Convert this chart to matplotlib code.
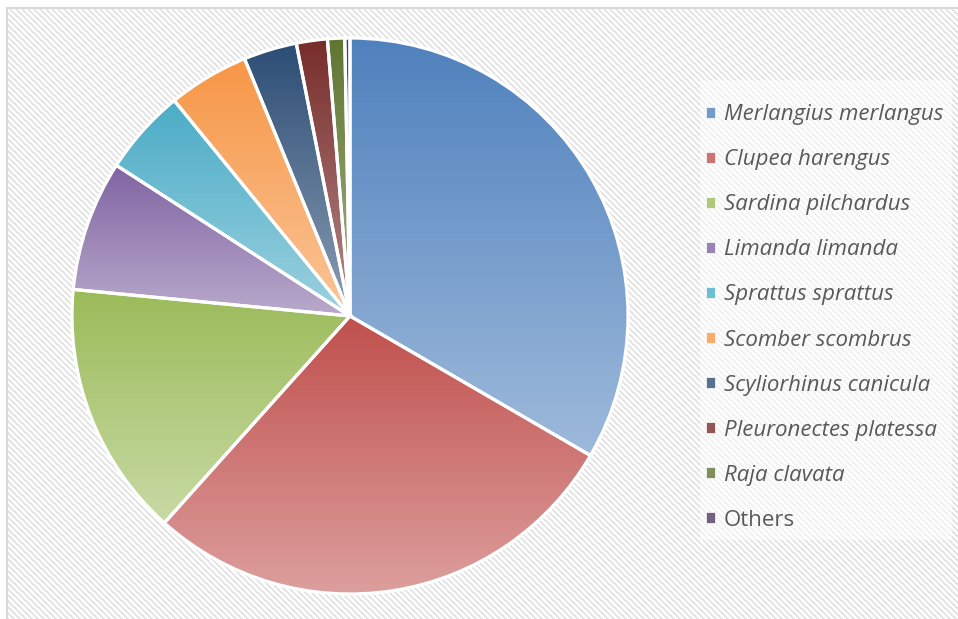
import numpy as np
import matplotlib
matplotlib.use('Agg')
import matplotlib.pyplot as plt
import matplotlib.patches as ptc
from matplotlib.colors import to_rgb


species = ['Merlangius merlangus', 'Clupea harengus', 'Sardina pilchardus',
           'Limanda limanda', 'Sprattus sprattus', 'Scomber scombrus',
           'Scyliorhinus canicula', 'Pleuronectes platessa', 'Raja clavata',
           'Others']
share = [33.4, 28.3, 14.9, 7.6, 5.0, 4.7, 3.1, 1.8, 1.0, 0.3]
colors = ['#4F81BD', '#C0504D', '#9BBB59', '#8064A2', '#4BACC6', '#F79646',
          '#2C4D75', '#772C2A', '#5F7530', '#4D3B62']


W, H = 958, 619
fig = plt.figure(figsize=(W / 100, H / 100), dpi=100)

# Striped backdrop drawn as an image over the whole figure.
bg = fig.add_axes([0, 0, 1, 1])
bg.set_axis_off()
yy, xx = np.mgrid[0:H, 0:W]
stripe = ((xx - yy) % 6) < 3
pattern = np.where(stripe, 0.90, 1.0)
pattern[:7, :] = 1.0
pattern[:, :7] = 1.0
bg.imshow(pattern, cmap='gray', vmin=0, vmax=1, extent=[0, W, H, 0],
          interpolation='bilinear', aspect='auto')
bg.plot([7.5, 7.5], [H, 7.5], color='#D9D9D9', lw=1.5)
bg.plot([7.5, W], [7.5, 7.5], color='#D9D9D9', lw=1.5)
bg.set_xlim(0, W)
bg.set_ylim(H, 0)

# Pie axes, centred at (350, 316) px with a radius of 278 px.
cx, cy, r = 350, H - 316, 278
pad = 1.01
ax = fig.add_axes([(cx - r * pad) / W, (cy - r * pad) / H,
                   2 * r * pad / W, 2 * r * pad / H])
ax.set_axis_off()

wedges, _ = ax.pie(share, startangle=90, counterclock=False, radius=1,
                   colors=['none'] * len(share),
                   wedgeprops=dict(edgecolor='white', linewidth=2.3))


def tint(c, amount):
    c = np.array(to_rgb(c))
    return c + (1 - c) * amount


# Fill every slice with a vertical gradient: full colour at the top, paler at the bottom.
for w, c in zip(wedges, colors):
    ext = w.get_path().get_extents()
    top, bottom = tint(c, 0.0), tint(c, 0.45)
    t = np.linspace(0, 1, 256)[:, None]
    grad = top[None, :] * (1 - t) + bottom[None, :] * t
    grad = np.repeat(grad[:, None, :], 2, axis=1)
    im = ax.imshow(grad, extent=[ext.x0, ext.x1, ext.y0, ext.y1],
                   origin='upper', aspect='auto', zorder=1)
    im.set_clip_path(w)
    w.set_zorder(2)
ax.set_xlim(-pad, pad)
ax.set_ylim(-pad, pad)

# Pale legend panel.
fig.patches.append(ptc.Rectangle((700 / W, 1 - 540 / H), 252 / W, 460 / H,
                                 transform=fig.transFigure, facecolor='white',
                                 alpha=0.55, edgecolor='none', zorder=1))

handles = [ptc.Patch(facecolor=tint(c, 0.2), edgecolor='white', linewidth=0.5)
           for c in colors]
leg = fig.legend(handles, species, loc='upper left',
                 bbox_to_anchor=(0.7276, 0.846), frameon=False,
                 prop={'family': 'Open Sans', 'size': 16, 'style': 'italic'},
                 labelcolor='#595959', handlelength=0.4, handleheight=0.4,
                 handletextpad=0.4, labelspacing=1.083, borderaxespad=0)
leg.get_texts()[-1].set_style('normal')

fig.savefig('out.png', dpi=100)
